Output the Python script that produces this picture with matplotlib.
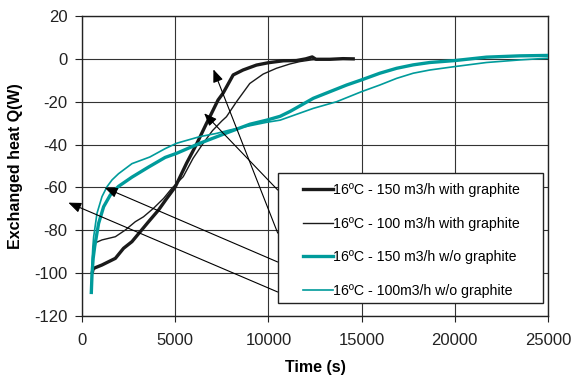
import matplotlib
matplotlib.use('Agg')
import matplotlib.pyplot as plt
from matplotlib.patches import Rectangle

plt.rcParams['font.family'] = ['Liberation Sans', 'DejaVu Sans']
plt.rcParams['axes.unicode_minus'] = False

# 16ºC - 150 m3/h with graphite
t_150g = [560, 600, 700, 1070, 1790, 2230, 2680, 3130, 3570, 4110, 4550, 5000,
          5610, 6140, 6680, 6860, 7300, 7570, 8110, 8640, 9360, 10000, 10800,
          11500, 12000, 12350, 12550, 13300, 14000, 14550]
q_150g = [-99.5, -98, -97.5, -96.2, -93.1, -88.4, -85.3, -80.6, -76, -70.5, -65.1, -59.8,
          -48.7, -39.9, -30.1, -27, -19.2, -16, -7.5, -5.2, -2.9, -1.8, -0.9,
          -0.8, 0, 0.9, -0.2, -0.2, 0.1, 0]

# 16ºC - 100 m3/h with graphite
t_100g = [600, 650, 1070, 1790, 2320, 2860, 3300, 3840, 4380, 4820, 5430, 5960,
          6500, 7000, 7500, 7750, 8290, 9000, 9720, 10430, 11150, 11680, 12300, 13000]
q_100g = [-88, -86.1, -84.5, -83, -79.9, -76, -73.7, -69.7, -65.1, -60.4, -55, -46.4,
          -39.4, -33.5, -29, -27, -20, -11.5, -7.1, -4.4, -2.4, -1.3, -0.5, 0]

# 16ºC - 150 m3/h w/o graphite
t_150 = [500, 540, 600, 680, 890, 1160, 1520, 1960, 2680, 3570, 4460, 5070, 6320,
         7930, 9010, 9910, 10630, 11170, 12410, 14200, 15000, 15980, 16880, 17770,
         18660, 20000, 21700, 23480, 25000]
q_150 = [-109, -100, -93, -87.6, -76.8, -69, -63.5, -59.5, -55.2, -50.5, -46, -44.1, -39.4,
         -34, -30.5, -28.6, -26.8, -24.5, -18.4, -12.2, -9.8, -6.7, -4.4, -2.8,
         -1.7, -0.8, 0.8, 1.4, 1.6]

# 16ºC - 100m3/h w/o graphite
t_100 = [500, 536, 580, 626, 804, 1072, 1340, 1610, 1960, 2680, 3640, 4460, 5070,
         6320, 7210, 7930, 9010, 9910, 10630, 12410, 13660, 15000, 15980, 16880,
         17770, 18660, 20000, 21700, 23480, 25000]
q_100 = [-109, -95.4, -88, -83, -72.1, -64.3, -59.7, -56.5, -53.6, -48.9, -45.8, -41.9, -39.4,
         -36.3, -34.8, -33.2, -31.2, -29.6, -28.6, -23.1, -20, -15.3, -12.2, -9.1,
         -6.7, -5.2, -3.6, -1.7, -0.5, 0.3]

labels = ['16ºC - 150 m3/h with graphite', '16ºC - 100 m3/h with graphite',
          '16ºC - 150 m3/h w/o graphite', '16ºC - 100m3/h w/o graphite']

# arrows: (tip, tail) in data units
arrows = [((6553, -25.4), (10500, -61.2)),
          ((7050, -4.9), (10500, -81.3)),
          ((1215, -60.1), (10500, -94.8)),
          ((-733, -67.1), (10500, -108.8))]

black = '#1a1a1a'
teal = '#009b9b'

fig = plt.figure(figsize=(5.74, 3.78), dpi=100)
ax = fig.add_axes([82/574, 1-316/378, 466/574, 300/378])

l1, = ax.plot(t_150g, q_150g, color=black, lw=2.4, label=labels[0], zorder=3)
l2, = ax.plot(t_100g, q_100g, color=black, lw=1.0, label=labels[1], zorder=3)
l3, = ax.plot(t_150, q_150, color=teal, lw=2.4, label=labels[2], zorder=3)
l4, = ax.plot(t_100, q_100, color=teal, lw=1.2, label=labels[3], zorder=3)

ax.set_xlim(0, 25000)
ax.set_ylim(-120, 20)
ax.set_xticks(range(0, 25001, 5000))
ax.set_yticks(range(-120, 21, 20))
ax.grid(True, color='#333333', lw=0.8)
ax.set_axisbelow(True)
for s in ax.spines.values():
    s.set_linewidth(1.0)
    s.set_color('#222222')
ax.tick_params(axis='y', direction='out', length=5, pad=5.5, labelsize=12, colors='#222222')
ax.tick_params(axis='x', direction='out', length=4, pad=8.5, labelsize=12, colors='#222222')

ax.set_xlabel('Time (s)', fontsize=11.5, fontweight='bold')
ax.set_ylabel('Exchanged heat Q(W)', fontsize=11.5, fontweight='bold')
ax.xaxis.set_label_coords(0.5, -0.148)
ax.yaxis.set_label_coords(-0.127, 0.5)

for tip, tail in arrows:
    ax.annotate('', xy=tip, xytext=tail, annotation_clip=False,
                arrowprops=dict(arrowstyle='-|>,head_length=0.55,head_width=0.22',
                                color='black', lw=0.8, mutation_scale=14,
                                shrinkA=0, shrinkB=0), zorder=4)

ax.add_patch(Rectangle((10500, -113.9), 14250, 60.6, facecolor='white',
                       edgecolor='#222222', lw=1.0, zorder=5))
leg = ax.legend(handles=[l1, l2, l3, l4], loc='upper left',
                bbox_to_anchor=((303-82)/466, 1-(183-16)/300),
                frameon=False, fontsize=10.2, borderpad=0, borderaxespad=0,
                handlelength=2.1, handletextpad=0.05, labelspacing=1.38)
leg.set_zorder(6)

fig.savefig('out.png', dpi=100)
